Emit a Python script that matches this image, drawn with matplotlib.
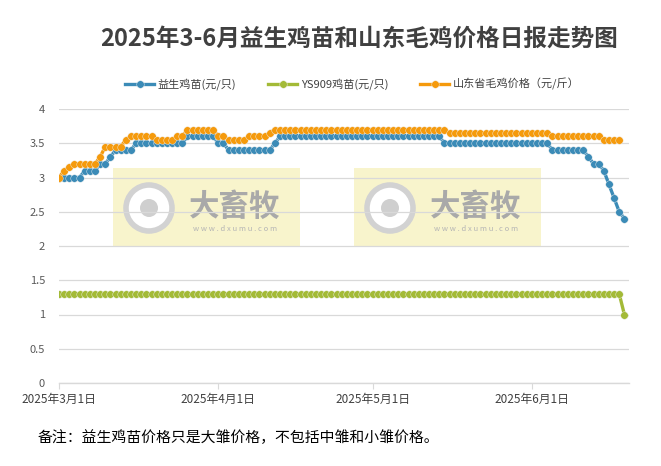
import matplotlib
matplotlib.use('Agg')
import matplotlib.pyplot as plt
import pandas as pd
from matplotlib.patches import Rectangle, Ellipse

plt.rcParams['font.family'] = ['Noto Sans CJK SC', 'DejaVu Sans']
plt.rcParams['axes.unicode_minus'] = False

# 数据 (2025-03-01 起每日)
start_date = '2025-03-01'
yisheng = ([3.0]*5 + [3.1]*3 + [3.2]*2 + [3.3] + [3.4]*4 + [3.5]*10 + [3.6]*6
           + [3.5]*2 + [3.4]*9 + [3.5] + [3.6]*32 + [3.5]*21 + [3.4]*7
           + [3.3] + [3.2]*2 + [3.1, 2.9, 2.7, 2.5, 2.4])
ys909 = [1.3]*110 + [1.0]
shandong = ([3.0, 3.1, 3.15] + [3.2]*5 + [3.3] + [3.45]*4 + [3.55] + [3.6]*5
            + [3.55]*4 + [3.6]*2 + [3.7]*6 + [3.6]*2 + [3.55]*4 + [3.6]*4
            + [3.65] + [3.7]*34 + [3.65]*20 + [3.6]*10 + [3.55]*4)
labels = ['益生鸡苗(元/只)', 'YS909鸡苗(元/只)', '山东省毛鸡价格（元/斤）']
colors = ['#3B8BB7', '#A3BA37', '#F59A0C']
xticks = ['2025-03-01', '2025-04-01', '2025-05-01', '2025-06-01']
xtick_labels = ['2025年3月1日', '2025年4月1日', '2025年5月1日', '2025年6月1日']

d_yisheng = pd.date_range(start_date, periods=len(yisheng), freq='D')
d_ys909 = pd.date_range(start_date, periods=len(ys909), freq='D')
d_shandong = pd.date_range(start_date, periods=len(shandong), freq='D')

fig = plt.figure(figsize=(6.61, 4.66), dpi=100)
fig.set_facecolor('white')
ax = fig.add_axes([59/661, 1-383/466, 570/661, 274/466])

for d, v, c, lab in [(d_yisheng, yisheng, colors[0], labels[0]),
                     (d_ys909, ys909, colors[1], labels[1]),
                     (d_shandong, shandong, colors[2], labels[2])]:
    ax.plot(d, v, color=c, lw=2.4, marker='o', ms=5.4, mec='#f0f0f0', mew=0.3,
            mfc=c, label=lab, zorder=3)

ax.set_ylim(0, 4)
ax.set_yticks([0, 0.5, 1, 1.5, 2, 2.5, 3, 3.5, 4])
ax.set_yticklabels(['0', '0.5', '1', '1.5', '2', '2.5', '3', '3.5', '4'])
ax.set_xlim(pd.Timestamp(start_date), pd.Timestamp(start_date) + pd.Timedelta(days=110.9))
ax.set_xticks(pd.to_datetime(xticks))
ax.set_xticklabels(xtick_labels)
ax.tick_params(axis='y', length=0, pad=10, labelsize=8, labelcolor='#595959')
ax.tick_params(axis='x', length=4, width=0.8, color='#d9d9d9', pad=3,
               labelsize=8.5, labelcolor='#404040')
for s in ['top', 'right', 'left']:
    ax.spines[s].set_visible(False)
ax.spines['bottom'].set_color('#d9d9d9')
ax.spines['bottom'].set_linewidth(1)
ax.set_axisbelow(True)
ax.grid(axis='y', color='#d9d9d9', lw=0.9)

# 水印
def px(x, y):
    return (x - 59) / 570, (383 - y) / 274

for bx in [113, 354]:
    x0, y0 = px(bx, 246)
    ax.add_patch(Rectangle((x0, y0), 187/570, 78/274, transform=ax.transAxes,
                           facecolor='#f8f4cc', edgecolor='none', zorder=0.2))
    cx, cy = px(bx + 36, 208)
    ax.add_patch(Ellipse((cx, cy), 46/570, 46/274, transform=ax.transAxes,
                         facecolor='white', edgecolor='#d2d2d2', lw=4, zorder=0.3))
    ax.add_patch(Ellipse((cx, cy), 18/570, 18/274, transform=ax.transAxes,
                         facecolor='#cfcfcf', edgecolor='none', zorder=0.35))
    tx, ty = px(bx + 122, 207)
    ax.text(tx, ty, '大畜牧', transform=ax.transAxes, ha='center', va='center',
            fontsize=22, fontweight='bold', color='#a9a9a9', zorder=0.4)
    tx, ty = px(bx + 122, 229)
    ax.text(tx, ty, 'w w w . d x u m u . c o m', transform=ax.transAxes, ha='center',
            va='center', fontsize=5.5, color='#b5b5b5', zorder=0.4)

fig.text(0.543, 0.918, '2025年3-6月益生鸡苗和山东毛鸡价格日报走势图', ha='center',
         va='center', fontsize=17, fontweight='bold', color='#404040')
fig.legend(loc='center', bbox_to_anchor=(0.533, 0.82), ncol=3, frameon=False,
           fontsize=8, handlelength=2.6, columnspacing=2.9, handletextpad=0.3,
           labelcolor='#404040')
fig.text(38/661, 1-438/466, '备注：益生鸡苗价格只是大雏价格，不包括中雏和小雏价格。',
         ha='left', va='center', fontsize=10.7, fontweight='medium', color='black')

fig.savefig('out.png', dpi=100)
